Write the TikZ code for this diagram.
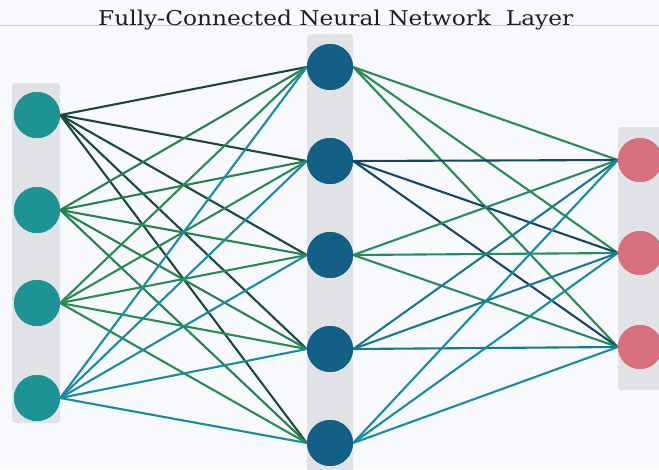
\documentclass[tikz,border=0pt]{standalone}
\usepackage{graphicx}
\usepackage{fontspec}
\newfontfamily\titlefont{DejaVu Serif}
\definecolor{bgc}{RGB}{247,249,252}
\definecolor{barc}{RGB}{224,226,229}
\definecolor{inc}{RGB}{30,147,150}
\definecolor{hidc}{RGB}{20,95,133}
\definecolor{outc}{RGB}{214,112,126}
\definecolor{darkl}{RGB}{28,70,62}
\definecolor{greenl}{RGB}{40,140,80}
\definecolor{teall}{RGB}{25,140,160}
\definecolor{navyl}{RGB}{25,70,100}
\definecolor{rulec}{RGB}{190,204,228}
\definecolor{titlec}{RGB}{30,30,40}
\begin{document}
\begin{tikzpicture}[x=1pt,y=-1pt,
  neuron/.style={circle,minimum size=46pt,inner sep=0pt,draw=none},
  inn/.style={neuron,fill=inc},
  hid/.style={neuron,fill=hidc},
  outn/.style={neuron,fill=outc,minimum size=44pt},
  bar/.style={fill=barc,draw=none,rounded corners=3pt},
  link/.style={line width=2.1pt}]
\fill[bgc] (0,0) rectangle (659,469);
\useasboundingbox (0,0) rectangle (659,469);
\draw[rulec,line width=0.7pt] (0,25.5) -- (659,25.5);
\node[anchor=base west,inner sep=0pt,text=titlec] (title) at (98,25) {\resizebox{475pt}{15.5pt}{\titlefont\fontsize{19}{23}\selectfont Fully-Connected Neural Network\ \ Layer}};
% bars
\fill[bar] (12,83) rectangle (60,423);
\fill[bar] (307,34) rectangle (353,475);
\fill[bar] (618,127) rectangle (665,390);
% nodes
\node[inn] (i1) at (37,115) {};
\node[inn] (i2) at (37,210) {};
\node[inn] (i3) at (37,303) {};
\node[inn] (i4) at (37,398) {};
\node[hid] (h1) at (330,67) {};
\node[hid] (h2) at (330,161) {};
\node[hid] (h3) at (330,255) {};
\node[hid] (h4) at (330,349) {};
\node[hid] (h5) at (330,443) {};
\node[outn] (o1) at (640,160) {};
\node[outn] (o2) at (640,253) {};
\node[outn] (o3) at (640,347) {};
% links input -> hidden
\foreach \h in {1,...,5} \draw[link,darkl] (i1.east) -- (h\h.west);
\foreach \h in {1,...,5} \draw[link,greenl!85!darkl] (i2.east) -- (h\h.west);
\foreach \h in {1,...,5} \draw[link,greenl] (i3.east) -- (h\h.west);
\foreach \h in {1,...,5} \draw[link,teall] (i4.east) -- (h\h.west);
% hidden -> output
\foreach \o in {1,2,3} \draw[link,greenl] (h1.east) -- (o\o.west);
\foreach \o in {1,2,3} \draw[link,navyl] (h2.east) -- (o\o.west);
\foreach \o in {1,2,3} \draw[link,greenl!80!teall] (h3.east) -- (o\o.west);
\foreach \o in {1,2,3} \draw[link,teall!70!navyl] (h4.east) -- (o\o.west);
\foreach \o in {1,2,3} \draw[link,teall] (h5.east) -- (o\o.west);
% redraw nodes on top
\foreach \n in {i1,i2,i3,i4} \fill[inc] (\n) circle (23pt);
\foreach \n in {h1,h2,h3,h4,h5} \fill[hidc] (\n) circle (23pt);
\foreach \n in {o1,o2,o3} \fill[outc] (\n) circle (22pt);
\end{tikzpicture}
\end{document}
